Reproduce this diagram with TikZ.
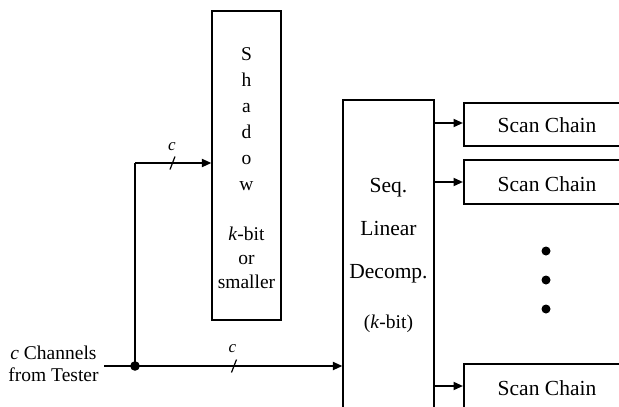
\documentclass[tikz,border=0pt]{standalone}
\usepackage{fontspec}
\setmainfont{Liberation Serif}
\usetikzlibrary{arrows.meta,calc}
\begin{document}
\begin{tikzpicture}[x=1pt,y=-1pt,
  big/.style={font=\fontsize{21.5}{25}\selectfont, inner sep=0pt, anchor=base},
  small/.style={font=\fontsize{19.5}{23}\selectfont, inner sep=0pt, anchor=base},
  lbl/.style={font=\fontsize{17}{20}\selectfont\itshape, inner sep=0pt, anchor=base},
  block/.style={draw, line width=1.2pt, inner sep=0pt, rectangle},
  chain/.style={draw, line width=1.5pt, inner sep=0pt, rectangle},
  sig/.style={line width=1.9pt},
  feed/.style={sig, -{Triangle[length=9.5pt 0,width=8pt 0]}},
  bus/.style={line width=1.5pt},
  tick/.style={line width=1.2pt}
]
\useasboundingbox (0,0) rectangle (619,407);
\clip (0,0) rectangle (619,407);

% blocks
\node[block, minimum width=69pt, minimum height=309pt] (shadow) at (246.5,165.5) {};
\node[block, minimum width=91pt, minimum height=340pt] (seq) at (388.5,270) {};
\node[chain, minimum width=200pt, minimum height=43pt, anchor=north west] (sc1) at (463,102) {};
\node[chain, minimum width=200pt, minimum height=44pt, anchor=north west] (sc2) at (463,159) {};
\node[chain, minimum width=200pt, minimum height=60pt, anchor=north west] (sc3) at (463,363) {};

% shadow register text
\node[small] (s1) at (246.5,60) {S};
\node[small] (s2) at (246.5,86) {h};
\node[small] (s3) at (246.5,112) {a};
\node[small] (s4) at (246.5,138) {d};
\node[small] (s5) at (246.5,164) {o};
\node[small] (s6) at (246.5,190) {w};
\node[small] (s7) at (246.5,240.5) {\textit{k}-bit};
\node[small] (s8) at (246.5,264) {or};
\node[small] (s9) at (246.5,288) {smaller};

% decompressor text
\node[big] (d1) at (388.5,192) {Seq.};
\node[big] (d2) at (388.5,235) {Linear};
\node[big] (d3) at (388.5,278.5) {Decomp.};
\node[small] (d4) at (388.5,328) {(\textit{k}-bit)};

% scan chain labels
\node[big] (t1) at (547,132.5) {Scan Chain};
\node[big] (t2) at (547,191.5) {Scan Chain};
\node[big] (t3) at (547,395) {Scan Chain};

% ellipsis dots
\fill (546,251) circle (4.5pt) coordinate (e1);
\fill (546,280) circle (4.5pt) coordinate (e2);
\fill (546,309) circle (4.5pt) coordinate (e3);

% tester input
\node[small] (in1) at (53.5,359.5) {\textit{c} Channels};
\node[small] (in2) at (53.5,381.5) {from Tester};
\coordinate (in) at (104,366);
\coordinate (split) at (135,366);
\coordinate (tap) at (135,163);
\draw[feed] (in) -- (split -| seq.west);
\draw[bus] (split) -- (tap);
\draw[feed] (tap) -- (tap -| shadow.west);
\fill (split) circle (4.8pt);

% bus width marks
\coordinate (m1) at (172.5,163);
\coordinate (m2) at (234,366);
\draw[tick] ($(m1)+(-2.5,6.5)$) -- ($(m1)+(2.5,-6.5)$);
\draw[tick] ($(m2)+(-2.5,6.5)$) -- ($(m2)+(2.5,-6.5)$);
\node[lbl] (c1) at (172,150.5) {c};
\node[lbl] (c2) at (232.5,352.5) {c};

% outputs to scan chains
\coordinate (o1) at (434,123);
\coordinate (o2) at (434,182);
\coordinate (o3) at (434,386);
\draw[feed] (o1) -- (o1 -| sc1.west);
\draw[feed] (o2) -- (o2 -| sc2.west);
\draw[feed] (o3) -- (o3 -| sc3.west);
\end{tikzpicture}
\end{document}
